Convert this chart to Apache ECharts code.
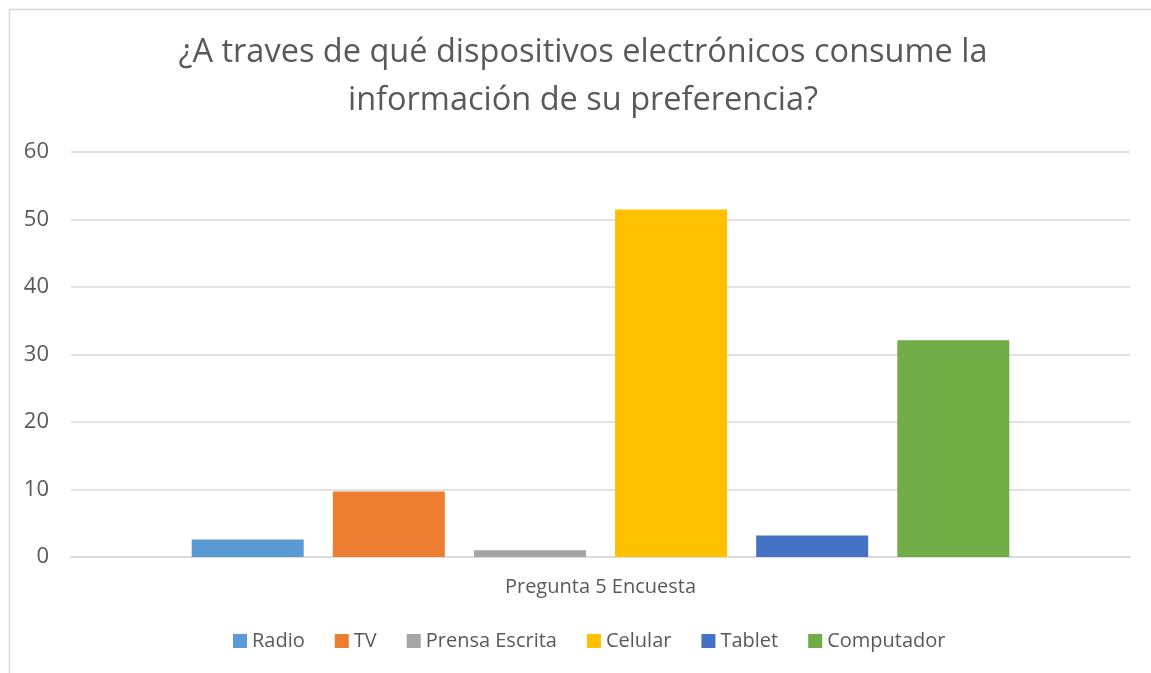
<!DOCTYPE html>
<html>
<head>
<meta charset="utf-8">
<script src="https://cdn.jsdelivr.net/npm/echarts@6/dist/echarts.min.js"></script>
<style>
html,body{margin:0;padding:0;background:#fff;}
#main{width:1151px;height:673px;}
</style>
</head>
<body>
<div id="main"></div>
<script>
const titleText = "¿A traves de qué dispositivos electrónicos consume la\ninformación de su preferencia?";
const categories = ["Pregunta 5 Encuesta"];
const seriesNames = ["Radio", "TV", "Prensa Escrita", "Celular", "Tablet", "Computador"];
const seriesValues = [2.6, 9.7, 1.0, 51.5, 3.2, 32.1];
const seriesColors = ["#5b9bd5", "#ed7d31", "#a5a5a5", "#ffc000", "#4472c4", "#70ad47"];
const yTicks = [0, 60, 10];

const FONT = "'Open Sans', 'Noto Sans', sans-serif";
const chart = echarts.init(document.getElementById('main'), null, {renderer: 'canvas'});
const option = {
  backgroundColor: '#ffffff',
  animation: false,
  textStyle: {fontFamily: FONT},
  graphic: [{
    type: 'rect', left: 7, top: 7, silent: true,
    shape: {width: 1200, height: 700},
    style: {fill: 'none', stroke: '#d9d9d9', lineWidth: 1.5}
  }],
  title: {
    text: titleText, left: 578, top: 24, textAlign: 'center',
    textStyle: {fontFamily: FONT, fontSize: 32.5, fontWeight: 'normal', color: '#595959', lineHeight: 48}
  },
  legend: {
    bottom: 17, left: 228, itemWidth: 14, itemHeight: 14, itemGap: 30,
    icon: 'rect',
    textStyle: {fontFamily: FONT, fontSize: 20, color: '#595959'}
  },
  grid: {left: 71, right: 21, top: 152, bottom: 116, containLabel: false},
  xAxis: {
    type: 'category', data: categories,
    axisLine: {lineStyle: {color: '#d9d9d9', width: 1.5}},
    axisTick: {show: false},
    axisLabel: {fontFamily: FONT, fontSize: 20, color: '#595959', margin: 20}
  },
  yAxis: {
    type: 'value', min: yTicks[0], max: yTicks[1], interval: yTicks[2],
    axisLine: {show: false}, axisTick: {show: false},
    splitLine: {lineStyle: {color: '#d9d9d9', width: 1.5}},
    axisLabel: {fontFamily: FONT, fontSize: 22, color: '#595959', margin: 22}
  },
  series: seriesNames.map((n, i) => ({
    name: n, type: 'bar', data: [seriesValues[i]],
    barWidth: 112, barGap: '26%',
    itemStyle: {color: seriesColors[i]}
  }))
};
chart.setOption(option);
</script>
</body>
</html>
